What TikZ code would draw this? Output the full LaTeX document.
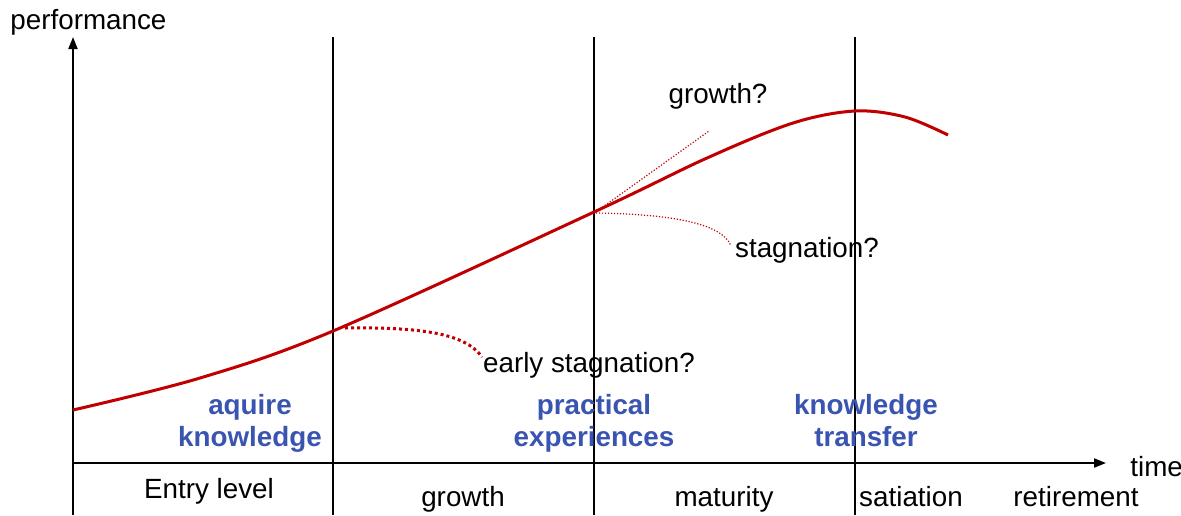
\documentclass[tikz,border=0pt]{standalone}
\usepackage{fontspec}
\setmainfont{Liberation Sans}
\usetikzlibrary{arrows.meta}
\definecolor{curvered}{RGB}{192,0,0}
\definecolor{phaseblue}{RGB}{58,85,176}
\begin{document}
\begin{tikzpicture}[x=0.5pt,y=-0.5pt,
  lbl/.style={font=\fontsize{13.9}{16}\selectfont, inner sep=0pt, anchor=base},
  phase/.style={font=\fontsize{13.9}{16}\selectfont\bfseries, text=phaseblue, inner sep=0pt, anchor=base},
  axisline/.style={line width=1pt, -{Triangle[length=6pt,width=4.5pt]}},
  divider/.style={line width=0.7pt},
  perf/.style={curvered, line width=1.5pt},
  thickdots/.style={curvered, line width=1.5pt, dash pattern=on 1.5pt off 1.5pt},
  thindots/.style={curvered, line width=0.6pt, dash pattern=on 0.6pt off 0.9pt}]
\useasboundingbox (0,0) rectangle (1181,515);
% axes
\coordinate (O) at (73,463);
\coordinate (ytop) at (73,37);
\coordinate (ybot) at (73,515);
\coordinate (xend) at (1106,463);
\draw[line width=1pt] (O) -- (ybot);
\draw[axisline] (O) -- (ytop);
\draw[axisline] (O) -- (xend);
% dividers
\foreach \x/\n in {333/a,594/b,855/c}{
  \coordinate (d\n top) at (\x,37);
  \coordinate (d\n bot) at (\x,515);
  \draw[divider] (d\n top) -- (d\n bot);
}
% axis labels
\node[lbl, anchor=base west] (perfl) at (10,29) {performance};
\node[lbl, anchor=base west] (timel) at (1130,476) {time};
% performance curve
\draw[perf] plot[smooth, tension=0.55] coordinates {(73,410) (200,378) (333,331) (594,212) (707,158) (793,123) (855,111) (905,117) (948,135)};
% alternative paths
\coordinate (es0) at (345,328);
\coordinate (es1) at (482,357);
\draw[thickdots] (es0) .. controls (420,327) and (465,333) .. (es1);
\coordinate (g0) at (600,209);
\coordinate (g1) at (709,131);
\draw[thindots] (g0) -- (g1);
\coordinate (s0) at (596,213);
\coordinate (s1) at (731,246);
\draw[thindots] (s0) .. controls (665,214) and (722,222) .. (s1);
% question labels
\node[lbl] (earlyq) at (589,372) {early stagnation?};
\node[lbl] (growthq) at (718,103) {growth?};
\node[lbl] (stagq) at (807,257) {stagnation?};
% phase labels (blue)
\node[phase] (aq1) at (250,414) {aquire};
\node[phase] (aq2) at (250,446) {knowledge};
\node[phase] (pr1) at (594,414) {practical};
\node[phase] (pr2) at (594,446) {experiences};
\node[phase] (kt1) at (866,414) {knowledge};
\node[phase] (kt2) at (866,446) {transfer};
% career stages
\node[lbl] (entry) at (209,498) {Entry level};
\node[lbl] (growth) at (463,506) {growth};
\node[lbl] (maturity) at (724,506) {maturity};
\node[lbl] (satiation) at (911,506) {satiation};
\node[lbl] (retire) at (1076,506) {retirement};
\end{tikzpicture}
\end{document}
